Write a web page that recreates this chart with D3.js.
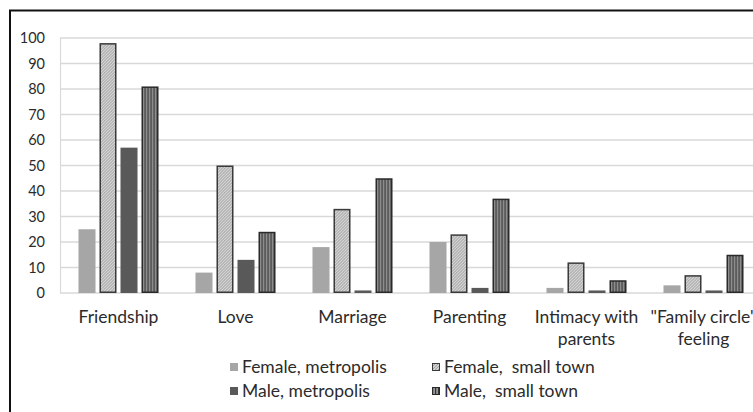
<!DOCTYPE html>
<html>
<head>
<meta charset="utf-8">
<script src="https://cdn.jsdelivr.net/npm/d3@7"></script>
<style>
  html, body { margin: 0; padding: 0; background: #fff; }
  svg { display: block; }
  text { font-family: Lato, "Open Sans", sans-serif; fill: #2b2b2b; }
</style>
</head>
<body>
<svg id="chart" width="753" height="412"></svg>
<script>
// Categories (each label may wrap onto two lines)
const categories = [
  ["Friendship"],
  ["Love"],
  ["Marriage"],
  ["Parenting"],
  ["Intimacy with", "parents"],
  ["\"Family circle\"", "feeling"]
];
const seriesNames = ["Female, metropolis", "Female,  small town", "Male, metropolis", "Male,  small town"];
const femaleMetropolis = [25, 8, 18, 20, 2, 3];
const femaleSmallTown  = [98, 50, 33, 23, 12, 7];
const maleMetropolis   = [57, 13, 1, 2, 1, 1];
const maleSmallTown    = [81, 24, 45, 37, 5, 15];
const yTicks = [0, 10, 20, 30, 40, 50, 60, 70, 80, 90, 100];

const seriesValues = [femaleMetropolis, femaleSmallTown, maleMetropolis, maleSmallTown];
const catKeys = categories.map(c => c.join(" "));

const svg = d3.select("#chart");
const defs = svg.append("defs");

// Fine diagonal dotted fill for "Female, small town"
const dots = defs.append("pattern").attr("id", "dots")
  .attr("patternUnits", "userSpaceOnUse").attr("width", 3).attr("height", 3);
dots.append("rect").attr("width", 3).attr("height", 3).attr("fill", "#d3d3d3");
[[0, 2], [1, 1], [2, 0]].forEach(([px, py]) => {
  dots.append("rect").attr("x", px).attr("y", py).attr("width", 1).attr("height", 1)
    .attr("fill", "#9c9c9c");
});

// Vertical stripes for "Male, small town"
const stripes = defs.append("pattern").attr("id", "stripes")
  .attr("patternUnits", "userSpaceOnUse").attr("width", 3).attr("height", 3);
stripes.append("rect").attr("width", 3).attr("height", 3).attr("fill", "#979797");
stripes.append("rect").attr("width", 1.2).attr("height", 3).attr("fill", "#333333");

const styles = [
  { fill: "#a6a6a6", stroke: "none" },
  { fill: "url(#dots)", stroke: "#3a3a3a" },
  { fill: "#595959", stroke: "none" },
  { fill: "url(#stripes)", stroke: "#2a2a2a" }
];

const x0 = d3.scaleBand().domain(catKeys).range([60, 762])
  .paddingInner(0.316).paddingOuter(0.158);
const x1 = d3.scaleBand().domain(d3.range(seriesNames.length))
  .range([0, x0.bandwidth()]).paddingInner(0.19);
const y = d3.scaleLinear().domain([0, 100]).range([293, 38]);

// Gridlines
svg.append("g").selectAll("line").data(yTicks).join("line")
  .attr("x1", 60).attr("x2", 762)
  .attr("y1", d => y(d)).attr("y2", d => y(d))
  .attr("stroke", "#d9d9d9").attr("stroke-width", 1.5);
svg.append("line").attr("x1", 60.5).attr("x2", 60.5)
  .attr("y1", y(100)).attr("y2", y(0))
  .attr("stroke", "#d9d9d9").attr("stroke-width", 1.2);

// Y axis labels
const yAxis = d3.axisLeft(y).tickValues(yTicks).tickSize(0).tickPadding(0);
const yg = svg.append("g").attr("transform", "translate(45,0)").call(yAxis);
yg.select(".domain").remove();
yg.selectAll("text").attr("font-family", "Lato, sans-serif")
  .attr("font-size", 14.5).attr("fill", "#2b2b2b");

// Bars
const groups = svg.append("g").selectAll("g").data(catKeys).join("g")
  .attr("transform", d => `translate(${x0(d)},0)`);
groups.selectAll("rect")
  .data((d, i) => seriesValues.map((vals, s) => ({ s, v: vals[i] })))
  .join("rect")
  .each(function (d) {
    const st = styles[d.s];
    const inset = st.stroke === "none" ? 0 : 0.75;
    d3.select(this)
      .attr("x", x1(d.s) + inset)
      .attr("width", x1.bandwidth() - 2 * inset)
      .attr("y", y(d.v) + inset)
      .attr("height", Math.max(0, y(0) - y(d.v) - 2 * inset))
      .attr("fill", st.fill)
      .attr("stroke", st.stroke)
      .attr("stroke-width", 1.5);
  });

// Category labels
const catG = svg.append("g").selectAll("text").data(categories).join("text")
  .attr("text-anchor", "middle")
  .attr("font-size", 17.5)
  .attr("x", (d, i) => x0(catKeys[i]) + x0.bandwidth() / 2)
  .attr("y", 323);
catG.selectAll("tspan").data(d => d).join("tspan")
  .attr("x", function () { return d3.select(this.parentNode).attr("x"); })
  .attr("dy", (d, i) => i === 0 ? 0 : 22)
  .text(d => d);

// Legend
const legendPos = [
  { x: 230, y: 367 }, { x: 432, y: 367 },
  { x: 230, y: 391 }, { x: 432, y: 391 }
];
const leg = svg.append("g").selectAll("g").data(seriesNames).join("g")
  .attr("transform", (d, i) => `translate(${legendPos[i].x},${legendPos[i].y})`);
leg.append("rect")
  .attr("x", (d, i) => styles[i].stroke === "none" ? 0 : 0.5)
  .attr("y", (d, i) => styles[i].stroke === "none" ? -4 : -3.5)
  .attr("width", (d, i) => styles[i].stroke === "none" ? 8 : 7)
  .attr("height", (d, i) => styles[i].stroke === "none" ? 8 : 7)
  .attr("fill", (d, i) => styles[i].fill)
  .attr("stroke", (d, i) => styles[i].stroke)
  .attr("stroke-width", 1);
leg.append("text")
  .attr("x", 12).attr("y", 0).attr("dy", "0.35em")
  .attr("font-size", 17.5)
  .style("white-space", "pre")
  .text(d => d);

// Outer frame
svg.append("rect").attr("x", 10).attr("y", 10.5)
  .attr("width", 800).attr("height", 500)
  .attr("fill", "none").attr("stroke", "#111").attr("stroke-width", 2);
</script>
</body>
</html>
